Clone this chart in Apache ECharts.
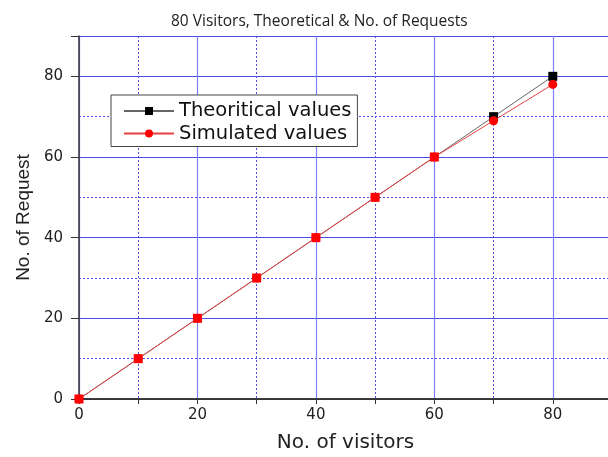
<!DOCTYPE html>
<html>
<head>
<meta charset="utf-8">
<script src="https://cdn.jsdelivr.net/npm/echarts@6/dist/echarts.min.js"></script>
<style>
  html, body { margin: 0; padding: 0; background: #fff; }
  #main { width: 608px; height: 457px; }
</style>
</head>
<body>
<div id="main"></div>
<script>
// 数据
var visitors = [0, 10, 20, 30, 40, 50, 60, 70, 80];
var theoritical = [0, 10, 20, 30, 40, 50, 60, 70, 80];
var simulated = [0, 10, 20, 30, 40, 50, 60, 69, 78];
var xLabels = [0, 20, 40, 60, 80];
var yLabels = [0, 20, 40, 60, 80];
var xMax = 90;   // 图被右边裁掉
var yMax = 90;

var chart = echarts.init(document.getElementById('main'));

function pairs(xs, ys) {
    return xs.map(function (x, i) { return [x, ys[i]]; });
}

// 理论值: 和模拟值重合的点显示为红色
var theoData = visitors.map(function (x, i) {
    var item = { value: [x, theoritical[i]] };
    if (theoritical[i] === simulated[i]) {
        item.itemStyle = { color: '#ff0000' };
    }
    return item;
});

var axisBlack = { show: true, lineStyle: { color: '#333', width: 1.5 } };
var labelFont = { fontFamily: 'DejaVu Sans', fontSize: 15, color: '#222' };

option = {
    backgroundColor: '#fff',
    animation: false,
    title: {
        text: '80 Visitors, Theoretical & No. of Requests',
        left: 166,
        top: 9,
        textStyle: { fontFamily: 'Open Sans', fontSize: 15.5, fontWeight: 'normal', color: '#222' }
    },
    legend: {
        orient: 'vertical',
        left: 111,
        top: 95,
        padding: [6, 6, 3, 12],
        itemGap: 2.5,
        itemWidth: 50,
        itemHeight: 10,
        borderColor: '#444',
        borderWidth: 1,
        backgroundColor: '#fff',
        textStyle: { fontFamily: 'DejaVu Sans', fontSize: 19.5, color: '#111' },
        data: ['Theoritical values', 'Simulated values']
    },
    grid: { left: 79, right: -4, top: 36, bottom: 58, outerBoundsMode: 'none' },
    xAxis: [
        {   // 下轴: 轴线 刻度 标签
            type: 'value', position: 'bottom', min: 0, max: xMax, interval: 10, z: 3,
            name: 'No. of visitors', nameLocation: 'middle', nameGap: 34,
            nameTextStyle: { fontFamily: 'DejaVu Sans', fontSize: 20, color: '#222' },
            axisLine: axisBlack,
            axisTick: { show: true, length: 5, lineStyle: { color: '#333' } },
            axisLabel: Object.assign({ margin: 9, formatter: function (v) {
                return xLabels.indexOf(v) >= 0 ? v : '';
            } }, labelFont),
            splitLine: { show: false }
        },
        {   // 上轴
            type: 'value', position: 'top', min: 0, max: xMax, interval: 10, z: 3,
            axisLine: axisBlack,
            axisTick: { show: true, inside: true, length: 5, lineStyle: { color: '#333' } },
            axisLabel: { show: false },
            splitLine: { show: false }
        },
        {   // 虚线网格
            type: 'value', position: 'bottom', min: 0, max: xMax, interval: 10, z: 0,
            axisLine: { show: false }, axisTick: { show: false }, axisLabel: { show: false },
            splitLine: { show: true, lineStyle: { color: '#4d4de6', width: 1, type: [2, 2] } }
        },
        {   // 实线网格
            type: 'value', position: 'bottom', min: 0, max: xMax, interval: 20, z: 1,
            axisLine: { show: false }, axisTick: { show: false }, axisLabel: { show: false },
            splitLine: { show: true, lineStyle: { color: '#8080ff', width: 1.2 } }
        }
    ],
    yAxis: [
        {
            type: 'value', position: 'left', min: 0, max: yMax, interval: 20, z: 3,
            name: 'No. of Request', nameLocation: 'middle', nameGap: 44,
            nameTextStyle: { fontFamily: 'Liberation Sans', fontSize: 19, color: '#222' },
            axisLine: axisBlack,
            axisTick: { show: true, length: 8, lineStyle: { color: '#333' } },
            axisLabel: Object.assign({ margin: 16, formatter: function (v) {
                return yLabels.indexOf(v) >= 0 ? v : '';
            } }, labelFont),
            splitLine: { show: false }
        },
        {
            type: 'value', position: 'left', min: 0, max: yMax, interval: 10, z: 0,
            axisLine: { show: false }, axisTick: { show: false }, axisLabel: { show: false },
            splitLine: { show: true, lineStyle: { color: '#4d4de6', width: 1, type: [2, 2] } }
        },
        {
            type: 'value', position: 'left', min: 0, max: yMax, interval: 20, z: 1,
            axisLine: { show: false }, axisTick: { show: false }, axisLabel: { show: false },
            splitLine: { show: true, lineStyle: { color: '#4a4ae8', width: 1.2 } }
        }
    ],
    series: [
        {
            name: 'Theoritical values',
            type: 'line',
            xAxisIndex: 0, yAxisIndex: 0,
            data: theoData,
            symbol: 'rect',
            symbolSize: 9,
            showAllSymbol: true,
            itemStyle: { color: '#000' },
            lineStyle: { color: '#666', width: 1 },
            z: 4
        },
        {
            name: 'Simulated values',
            type: 'line',
            xAxisIndex: 0, yAxisIndex: 0,
            data: pairs(visitors, simulated),
            symbol: 'circle',
            symbolSize: 9,
            showAllSymbol: true,
            itemStyle: { color: '#ff0000' },
            lineStyle: { color: '#e84040', width: 1 },
            z: 5
        }
    ]
};
chart.setOption(option);
</script>
</body>
</html>
